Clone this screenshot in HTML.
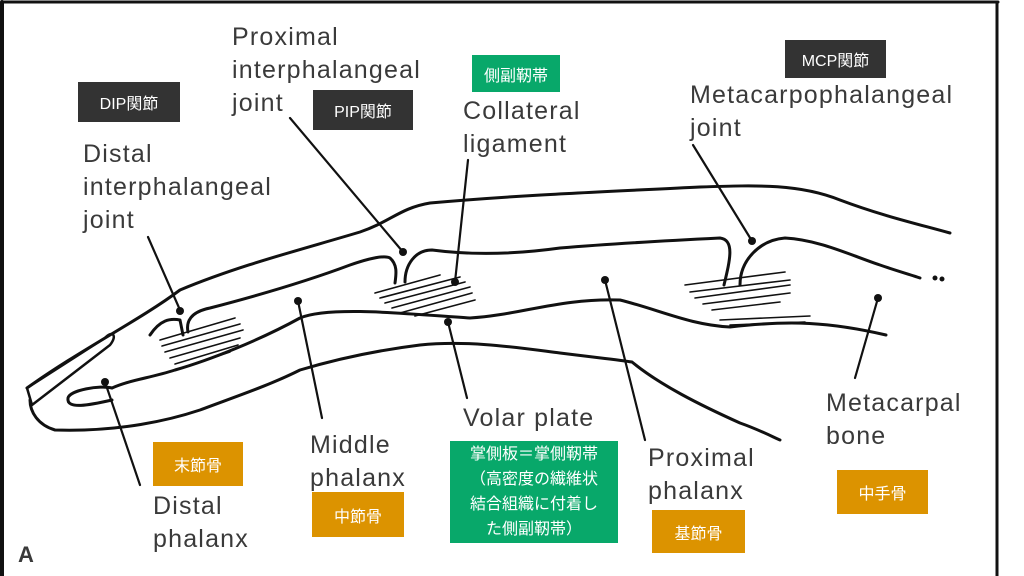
<!DOCTYPE html>
<html><head><meta charset="utf-8"><style>
body{margin:0;background:#fff;}
#c{position:relative;width:1024px;height:576px;overflow:hidden;background:#fff;}
.t{position:absolute;font-family:"Liberation Sans","DejaVu Sans",sans-serif;font-size:25px;letter-spacing:1.2px;color:#3a3a3a;line-height:33px;}
.b{position:absolute;font-family:"Liberation Sans","Noto Sans CJK JP",sans-serif;font-size:16px;color:#fff;display:flex;align-items:center;justify-content:center;text-align:center;}
.k{background:#333;}
.o{background:#dc9300;}
.g{background:#08a86a;}
</style></head><body><div id="c">
<svg width="1024" height="576" style="position:absolute;left:0;top:0" fill="none" stroke="#111" stroke-width="3" stroke-linecap="round" stroke-linejoin="round">
<line x1="2" y1="2" x2="998" y2="2" stroke-width="3"/>
<line x1="2" y1="2" x2="2" y2="576" stroke-width="4"/>
<line x1="997" y1="2" x2="997" y2="576" stroke-width="3"/>
<path d="M27,388 C80,350 140,320 180,290 C240,265 300,250 360,232 C390,222 400,208 430,203 C520,195 600,192 700,187 C760,185 800,184 840,200 C880,215 910,222 950,233"/>
<path d="M27,388 L32,405 L110,345 C118,335 112,330 105,338 Z" stroke-width="2.5"/>
<path d="M30,400 C30,412 38,425 55,430 C120,432 170,420 200,410 C240,395 270,385 300,370 C340,358 380,350 420,345 C470,340 520,348 560,353 C600,358 620,360 632,362 C660,385 700,405 740,423 C760,430 775,438 780,440"/>
<path d="M112,388 C100,385 70,390 68,398 C66,410 90,405 112,400"/>
<path d="M112,388 C130,380 150,378 175,370 C210,360 260,340 300,318 C330,305 420,315 470,318 C520,315 560,298 620,300 C660,310 690,325 730,327 C790,320 830,322 886,335"/>
<path d="M150,335 C160,320 170,318 180,320 L183,335"/>
<path d="M188,332 C186,322 190,312 210,308 C260,295 310,280 350,265 C370,258 385,255 390,258 C398,265 396,275 395,283"/>
<path d="M405,282 C405,265 415,250 432,250 C470,255 510,255 560,248 C620,243 680,240 720,238 C735,240 730,260 724,285"/>
<path d="M740,285 C740,260 760,240 785,238 C820,240 850,255 880,265 C900,272 915,276 920,278"/>
<circle cx="935" cy="278" r="1" fill="#111"/><circle cx="942" cy="279" r="1" fill="#111"/>
<g stroke-width="1.6">
<path d="M160,340 L235,318 M162,346 L240,324 M165,352 L243,330 M170,358 L240,338 M175,364 L238,345 M182,368 L230,352"/>
<path d="M375,293 L440,275 M380,298 L460,277 M385,303 L465,282 M392,308 L470,287 M400,313 L472,293 M415,316 L475,300"/>
<path d="M685,285 L785,272 M690,292 L790,280 M695,298 L790,285 M703,304 L790,293 M712,310 L780,302 M720,320 L810,316 M730,325 L805,322"/>
</g>
<g stroke-width="2.2">
<line x1="148" y1="237" x2="180" y2="310"/>
<line x1="290" y1="118" x2="403" y2="252"/>
<line x1="468" y1="160" x2="455" y2="282"/>
<line x1="693" y1="145" x2="752" y2="241"/>
<line x1="298" y1="301" x2="322" y2="418"/>
<line x1="448" y1="322" x2="467" y2="398"/>
<line x1="605" y1="280" x2="645" y2="440"/>
<line x1="878" y1="298" x2="855" y2="378"/>
<line x1="105" y1="382" x2="140" y2="485"/>
</g>
<g fill="#111" stroke="none">
<circle cx="180" cy="311" r="4"/><circle cx="403" cy="252" r="4"/><circle cx="455" cy="282" r="4"/>
<circle cx="752" cy="241" r="4"/><circle cx="298" cy="301" r="4"/><circle cx="448" cy="322" r="4"/>
<circle cx="605" cy="280" r="4"/><circle cx="878" cy="298" r="4"/><circle cx="105" cy="382" r="4"/>
</g>
</svg>
<div class="t" style="left:232px;top:21px">Proximal<br>interphalangeal<br>joint</div>
<div class="t" style="left:83px;top:138px">Distal<br>interphalangeal<br>joint</div>
<div class="t" style="left:463px;top:95px">Collateral<br>ligament</div>
<div class="t" style="left:690px;top:79px">Metacarpophalangeal<br>joint</div>
<div class="t" style="left:463px;top:402px">Volar plate</div>
<div class="t" style="left:310px;top:429px">Middle<br>phalanx</div>
<div class="t" style="left:153px;top:490px">Distal<br>phalanx</div>
<div class="t" style="left:648px;top:442px">Proximal<br>phalanx</div>
<div class="t" style="left:826px;top:387px">Metacarpal<br>bone</div>
<div class="t" style="left:18px;top:538px;font-weight:bold;font-size:22px;letter-spacing:0">A</div>
<div class="b k" style="left:78px;top:82px;width:102px;height:40px">DIP関節</div>
<div class="b k" style="left:313px;top:90px;width:100px;height:40px">PIP関節</div>
<div class="b g" style="left:472px;top:55px;width:88px;height:37px">側副靭帯</div>
<div class="b k" style="left:785px;top:40px;width:101px;height:38px">MCP関節</div>
<div class="b o" style="left:153px;top:442px;width:90px;height:44px">末節骨</div>
<div class="b o" style="left:312px;top:492px;width:92px;height:45px">中節骨</div>
<div class="b g" style="left:450px;top:441px;width:168px;height:102px;line-height:25px">掌側板＝掌側靭帯<br>（高密度の繊維状<br>結合組織に付着し<br>た側副靭帯）</div>
<div class="b o" style="left:652px;top:510px;width:93px;height:43px">基節骨</div>
<div class="b o" style="left:837px;top:470px;width:91px;height:44px">中手骨</div>
</div></body></html>
